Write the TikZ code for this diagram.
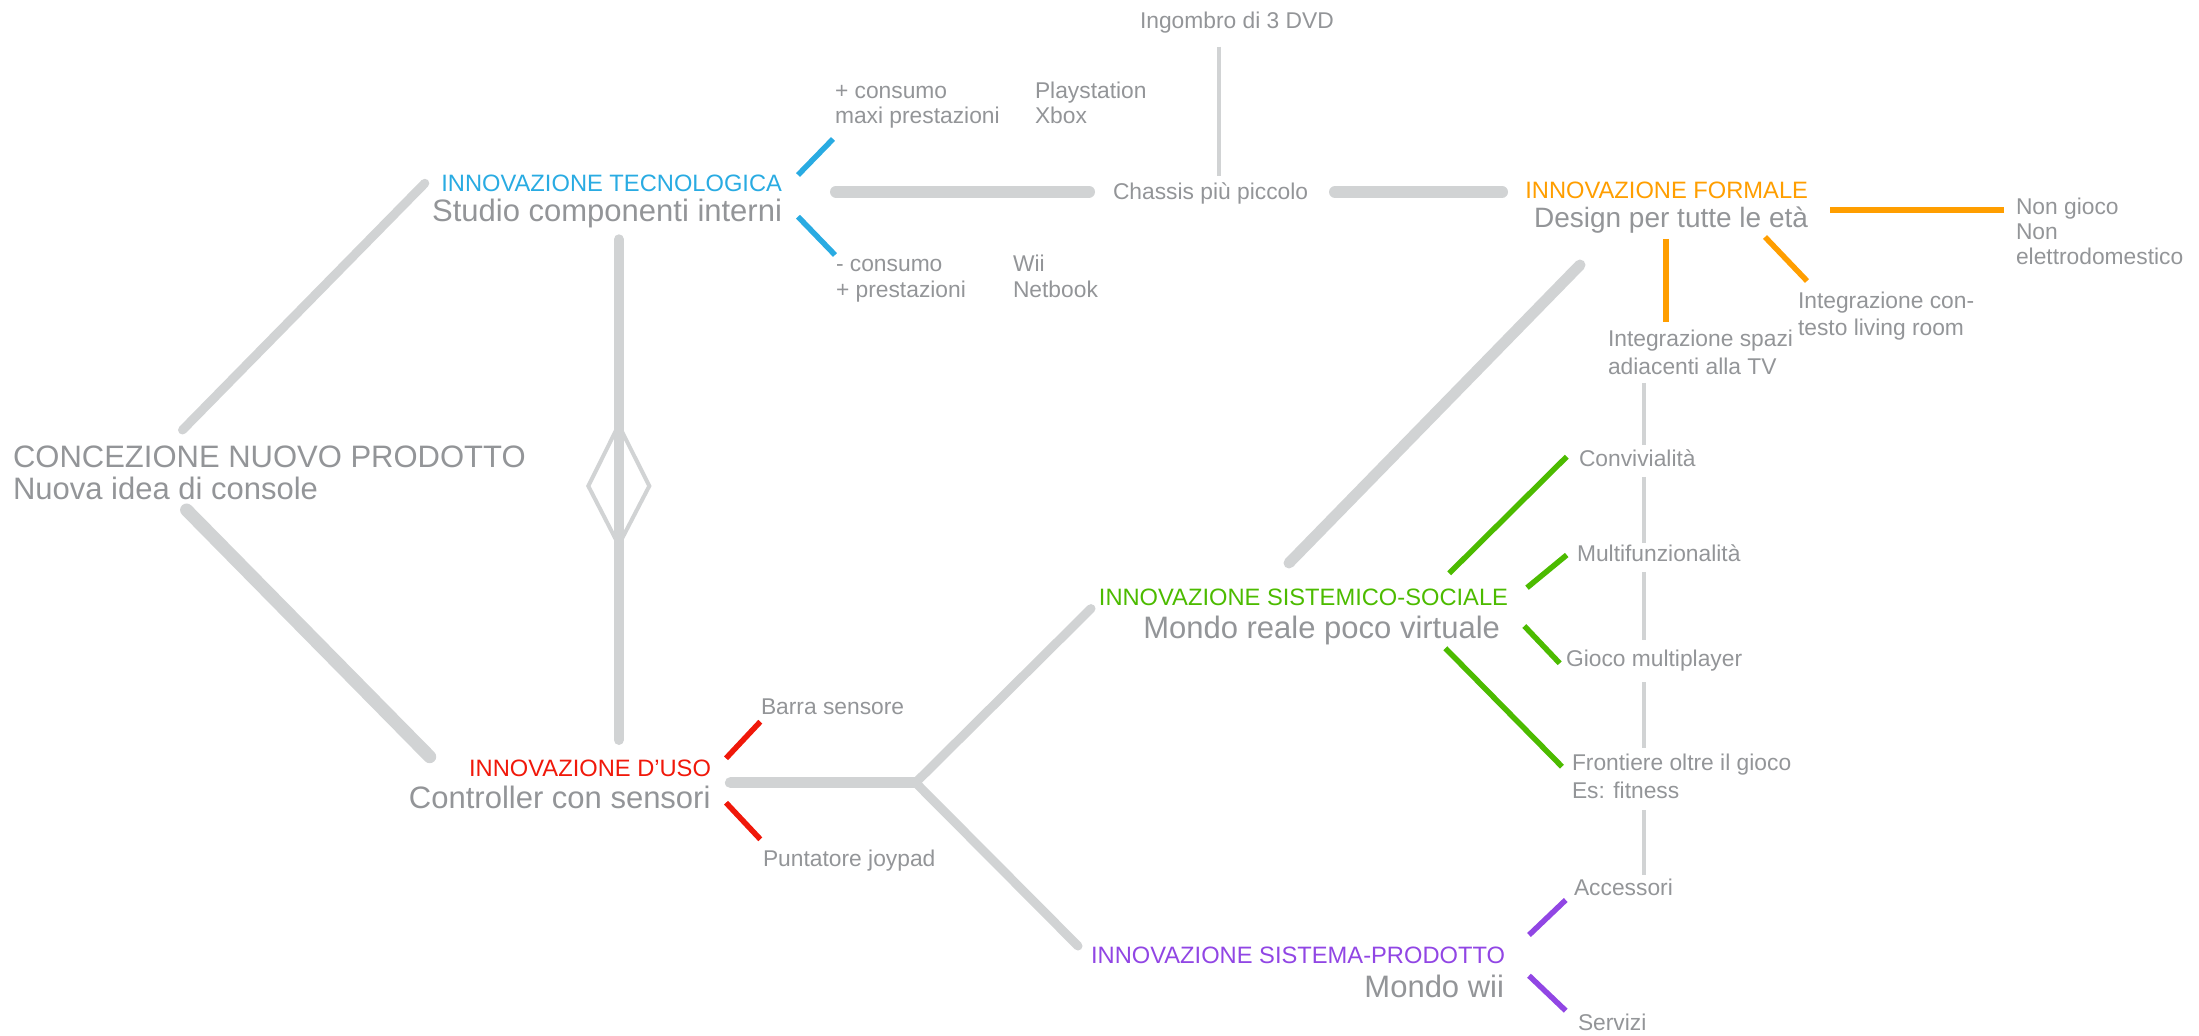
\documentclass[tikz,border=0pt]{standalone}
\usepackage{fontspec}
\setmainfont{Liberation Sans}
\definecolor{txt}{RGB}{147,149,152}
\definecolor{lg}{RGB}{209,211,212}
\definecolor{cblue}{RGB}{41,171,226}
\definecolor{corange}{RGB}{255,158,0}
\definecolor{cgreen}{RGB}{76,187,0}
\definecolor{cred}{RGB}{240,24,10}
\definecolor{cpurple}{RGB}{145,70,228}
\begin{document}
\begin{tikzpicture}[x=0.5pt,y=-0.5pt,
  every node/.style={inner sep=0pt, outer sep=0pt},
  lblS/.style={font=\fontsize{11.4pt}{13pt}\selectfont, text=txt},
  lblL/.style={font=\fontsize{15.5pt}{18pt}\selectfont, text=txt},
  lblM/.style={font=\fontsize{14pt}{17pt}\selectfont, text=txt},
  catT/.style={font=\fontsize{11.85pt}{13pt}\selectfont, text=#1},
  la/.style={anchor=base west},
  ra/.style={anchor=base east},
  bar/.style={draw=lg, line cap=round, line width=#1},
  guide/.style={draw=lg, line width=2pt},
  col/.style={draw=#1, line width=2.75pt}]
\useasboundingbox (0,0) rectangle (2199,1036);

% ---- texts ----
\node[lblL,la] (concA) at (13,468) {CONCEZIONE NUOVO PRODOTTO};
\node[lblL,la] (concB) at (13,500) {Nuova idea di console};

\node[catT=cblue,ra] (tecA) at (782,191.7) {INNOVAZIONE TECNOLOGICA};
\node[lblL,ra] (tecB) at (782,221.7) {Studio componenti interni};

\node[lblS,la] (p1a) at (835,98.3) {+ consumo};
\node[lblS,la] (p1b) at (835,124) {maxi prestazioni};
\node[lblS,la] (p2a) at (1035,98.3) {Playstation};
\node[lblS,la] (p2b) at (1035,124) {Xbox};
\node[lblS,la] (m1a) at (836,271.7) {- consumo};
\node[lblS,la] (m1b) at (836,297.7) {+ prestazioni};
\node[lblS,la] (m2a) at (1013,271.7) {Wii};
\node[lblS,la] (m2b) at (1013,297.7) {Netbook};

\node[lblS,la] (dvd) at (1140,28.3) {Ingombro di 3 DVD};
\node[lblS,la] (chassis) at (1113,200) {Chassis più piccolo};

\node[catT=corange,ra] (forA) at (1808,198.3) {INNOVAZIONE FORMALE};
\node[lblM,ra] (forB) at (1808,228) {Design per tutte le età};

\node[lblS,la] (ng1) at (2016,215) {Non gioco};
\node[lblS,la] (ng2) at (2016,240) {Non};
\node[lblS,la] (ng3) at (2016,265) {elettrodomestico};
\node[lblS,la] (ic1) at (1798,309) {Integrazione con-};
\node[lblS,la] (ic2) at (1798,336) {testo living room};
\node[lblS,la] (is1) at (1608,346.7) {Integrazione spazi};
\node[lblS,la] (is2) at (1608,375) {adiacenti alla TV};

\node[lblS,la] (conv) at (1579,466.7) {Convivialità};
\node[lblS,la] (multi) at (1577,561.7) {Multifunzionalità};
\node[lblS,la] (gioco) at (1566,666.7) {Gioco multiplayer};
\node[lblS,la] (fr1) at (1572,770.7) {Frontiere oltre il gioco};
\node[lblS,la] (fr2) at (1572,798.3) {Es: fitness};
\node[lblS,la] (acc) at (1574,895) {Accessori};
\node[lblS,la] (serv) at (1578,1030) {Servizi};

\node[catT=cgreen,ra] (sisA) at (1508,606) {INNOVAZIONE SISTEMICO-SOCIALE};
\node[lblL,ra] (sisB) at (1500,638.3) {Mondo reale poco virtuale};

\node[catT=cred,ra] (usoA) at (711,776.7) {INNOVAZIONE D’USO};
\node[lblL,ra] (usoB) at (710.5,808.3) {Controller con sensori};
\node[lblS,la] (barra) at (761,714) {Barra sensore};
\node[lblS,la] (punt) at (763,866.7) {Puntatore joypad};

\node[catT=cpurple,ra] (prodA) at (1505,963.3) {INNOVAZIONE SISTEMA-PRODOTTO};
\node[lblL,ra] (prodB) at (1504,997.3) {Mondo wii};

% ---- coordinates ----
\coordinate (g1a) at (182.5,430);  \coordinate (g1b) at (424.8,183.3);
\coordinate (g2a) at (186.6,510);  \coordinate (g2b) at (429.7,756.7);
\coordinate (v1a) at (618.8,239.3); \coordinate (v1b) at (618.8,740);
\coordinate (dT) at (618.7,425); \coordinate (dL) at (588.3,486);
\coordinate (dB) at (618.7,545); \coordinate (dR) at (649.3,486);
\coordinate (h1a) at (836,191.7); \coordinate (h1b) at (1089,191.7);
\coordinate (h2a) at (1335,192); \coordinate (h2b) at (1502,192);
\coordinate (fd1) at (1580,265); \coordinate (fd2) at (1289,563);
\coordinate (uh1) at (730.4,782.7); \coordinate (br) at (915.6,782.7);
\coordinate (bu) at (1091,608.6); \coordinate (bd) at (1078,946);
\coordinate (dvdA) at (1219,46.7); \coordinate (dvdB) at (1219,176);

% ---- gray bars ----
\draw[bar=4.5pt] (g1a) -- (g1b);
\draw[bar=6.5pt] (g2a) -- (g2b);
\draw[bar=5pt] (v1a) -- (v1b);
\draw[draw=lg, line width=2pt, line join=miter] (dT) -- (dL) -- (dB) -- (dR) -- cycle;
\draw[bar=6pt] (h1a) -- (h1b);
\draw[bar=6pt] (h2a) -- (h2b);
\draw[bar=5.5pt] (fd1) -- (fd2);
\draw[bar=5.5pt] (uh1) -- (br);
\draw[bar=4.5pt] (br) -- (bu);
\draw[bar=4.5pt] (br) -- (bd);

% ---- thin gray guides ----
\draw[guide] (dvdA) -- (dvdB);
\draw[guide] (1644,383) -- (1644,445);
\draw[guide] (1644,477) -- (1644,543);
\draw[guide] (1644,572) -- (1644,640);
\draw[guide] (1644,682) -- (1644,748);
\draw[guide] (1644,810) -- (1644,875);

% ---- coloured connectors ----
\draw[col=cblue] (833,139) -- (798,175);
\draw[col=cblue] (798,216.7) -- (835,255);
\draw[col=corange] (1666,239) -- (1666,321.7);
\draw[col=corange] (1765,237) -- (1807,281);
\draw[col=corange] (1830,210) -- (2004,210);
\draw[col=cgreen] (1449.2,573.3) -- (1566.7,456.7);
\draw[col=cgreen] (1527,587.7) -- (1566.7,555);
\draw[col=cgreen] (1524.3,626) -- (1559.7,663.3);
\draw[col=cgreen] (1445.4,648.3) -- (1562,766.7);
\draw[col=cred] (726,758.3) -- (760.3,721.7);
\draw[col=cred] (726,802.7) -- (760.3,839.3);
\draw[col=cpurple] (1529,935) -- (1565.7,900);
\draw[col=cpurple] (1529,975.7) -- (1565.7,1010.7);
\end{tikzpicture}
\end{document}
